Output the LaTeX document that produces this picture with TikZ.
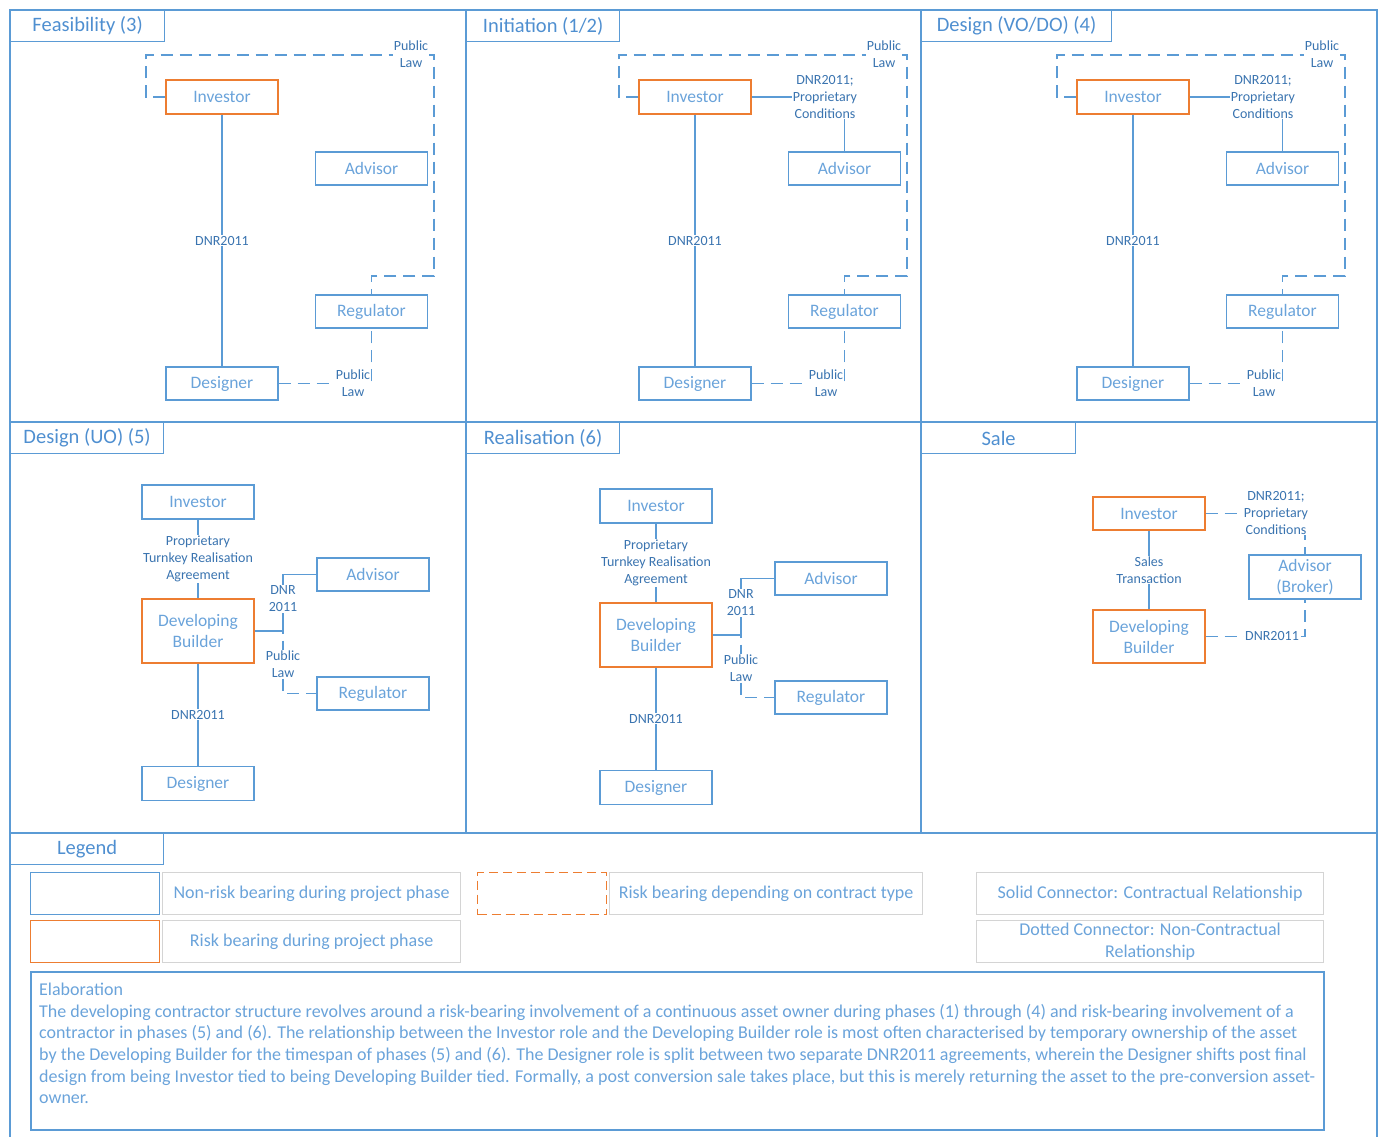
\documentclass[tikz,border=0pt]{standalone}
\usepackage{fontspec}
\setmainfont{Carlito}
\usetikzlibrary{calc}

\begin{document}
\begin{tikzpicture}[x=1pt, y=-1pt,
    role/.style={draw=lineColour, line width=1.4pt, text=roleText, font=\fontsize{17.5}{21}\selectfont,
        minimum width=112pt, minimum height=34pt, inner sep=0pt, align=center},
    riskRole/.style={role, draw=riskColour},
    relLabel/.style={fill=white, text=labelColour, font=\fontsize{14}{17}\selectfont, inner sep=0.8pt, align=center},
    contract/.style={draw=lineColour, line width=1.6pt},
    nonContract/.style={contract, dash pattern=on 12pt off 7pt},
    frame/.style={draw=lineColour, line width=1.4pt},
    phaseTab/.style={draw=lineColour, line width=1.2pt, anchor=north west, minimum height=31pt, inner sep=0pt,
        text=titleColour, font=\fontsize{20.5}{24}\selectfont},
    keyBox/.style={draw=lineColour, line width=1.4pt, minimum width=129pt, minimum height=42pt, anchor=north west, inner sep=0pt},
    legendText/.style={draw=greyColour, line width=1.2pt, text=roleText, minimum width=298pt, minimum height=42pt,
        anchor=north west, inner sep=0pt, align=center, font=\fontsize{18}{22}\selectfont}]

    % Define colours
    \definecolor{lineColour}{HTML}{5B9BD5}
    \definecolor{roleText}{HTML}{6AA3DA}
    \definecolor{labelColour}{HTML}{3A74B0}
    \definecolor{titleColour}{HTML}{4F8FD0}
    \definecolor{riskColour}{HTML}{ED7D31}
    \definecolor{greyColour}{HTML}{D4D4D4}

    % Fix page size
    \useasboundingbox (0,0) rectangle (1378,1136);

    % Draw phase frames
    \foreach \xa/\xb in {10/466, 466/921, 921/1377} {
        \draw[frame] (\xa,10) rectangle (\xb,422);
        \draw[frame] (\xa,422) rectangle (\xb,833);
    }
    \draw[frame] (10,1140) -- (10,833) -- (1377,833) -- (1377,1140);

    % Phase titles
    \node[phaseTab, minimum width=154pt] (tab1) at (10,10) {Feasibility (3)};
    \node[phaseTab, minimum width=153pt] (tab2) at (466,10) {Initiation (1/2)};
    \node[phaseTab, minimum width=190pt] (tab3) at (921,10) {Design (VO/DO) (4)};
    \node[phaseTab, minimum width=153pt] (tab4) at (10,422) {Design (UO) (5)};
    \node[phaseTab, minimum width=153pt] (tab5) at (466,422) {Realisation (6)};
    \node[phaseTab, minimum width=154pt] (tab6) at (921,422) {Sale};

    % Phases (3), (1/2) and (4)
    \foreach \ox/\i in {10/1, 483/2, 921/3} {
        \node[riskRole] (inv\i) at (\ox+212,97) {Investor};
        \node[role, minimum height=33pt] (adv\i) at (\ox+361.5,168.5) {Advisor};
        \node[role, minimum height=33pt] (reg\i) at (\ox+361.5,311.5) {Regulator};
        \node[role, minimum height=33pt] (des\i) at (\ox+212,383.5) {Designer};

        \draw[contract] (inv\i) -- (des\i) node[relLabel, midway] (dnr\i) {DNR2011};
        \draw[nonContract] (inv\i.west) -- (\ox+136,97) -- (\ox+136,55) -- (\ox+424,55)
            -- (\ox+424,276) -| (reg\i.north);
        \node[relLabel] (plTop\i) at (\ox+401,54) {Public\\Law};
        \draw[nonContract] (des\i.east) -| (reg\i.south);
        \node[relLabel] (plDes\i) at (\ox+343,383) {Public\\Law};

        \ifnum\i>1
            \draw[contract] (inv\i.east) -| (adv\i.north);
            \node[relLabel] (dnrPc\i) at (\ox+342,97) {DNR2011;\\Proprietary\\Conditions};
        \fi
    }

    % Phases (5) and (6)
    \foreach \ox/\oy/\i in {0/0/4, 458/4/5} {
        \node[role] (inv\i) at (\ox+198,\oy+502) {Investor};
        \node[riskRole, minimum height=64pt] (db\i) at (\ox+198,\oy+631) {Developing\\Builder};
        \node[role, minimum height=33pt] (adv\i) at (\ox+373,\oy+574.5) {Advisor};
        \node[role, minimum height=33pt] (reg\i) at (\ox+373,\oy+693.5) {Regulator};
        \node[role] (des\i) at (\ox+198,\oy+783.5) {Designer};
        \coordinate (jn\i) at (\ox+283,\oy+631);

        \draw[contract] (inv\i) -- (db\i) node[relLabel, midway] (ptra\i) {Proprietary\\Turnkey Realisation\\Agreement};
        \draw[contract] (db\i) -- (des\i) node[relLabel, midway] (dnr\i) {DNR2011};
        \draw[nonContract] (db\i.east) -- (jn\i) |- (reg\i.west);
        \draw[contract] (db\i.east) -- (jn\i) |- (adv\i.west);
        \node[relLabel] (dnrAdv\i) at (\ox+283,\oy+599) {DNR\\2011};
        \node[relLabel] (plReg\i) at (\ox+283,\oy+664) {Public\\Law};
    }

    % Sale
    \node[riskRole, minimum height=33pt] (inv6) at (1149,513.5) {Investor};
    \node[riskRole, minimum height=53pt] (db6) at (1149,636.5) {Developing\\Builder};
    \node[role, minimum height=44pt] (adv6) at (1305,577) {Advisor\\(Broker)};
    \draw[contract] (inv6) -- (db6) node[relLabel, midway] (sales6) {Sales\\Transaction};
    \draw[nonContract] (inv6.east) -| (adv6.north);
    \node[relLabel] (dnrPc6) at (1276,513) {DNR2011;\\Proprietary\\Conditions};
    \draw[nonContract] (db6.east) -| (adv6.south);
    \node[relLabel] (dnr6) at (1272,636) {DNR2011};

    % Legend
    \node[phaseTab, minimum width=153pt] (tabLegend) at (10,833) {Legend};
    \node[keyBox] (keyBlue) at (30,872) {};
    \node[legendText] (keyBlueText) at (162,872) {Non-risk bearing during project phase};
    \node[keyBox, draw=riskColour] (keyOrange) at (30,920) {};
    \node[legendText] (keyOrangeText) at (162,920) {Risk bearing during project phase};
    \node[keyBox, draw=riskColour, dash pattern=on 9pt off 5pt] (keyDashed) at (477,872) {};
    \node[legendText, minimum width=313pt] (keyDashedText) at (609,872) {Risk bearing depending on contract type};
    \node[legendText, minimum width=347pt] (keySolid) at (976,872) {Solid Connector: Contractual Relationship};
    \node[legendText, minimum width=347pt] (keyDotted) at (976,920) {Dotted Connector: Non-Contractual\\Relationship};

    % Elaboration
    \draw[frame] (31,972) rectangle (1324,1130);
    \node[anchor=north west, inner sep=0pt, align=left, text=roleText, font=\fontsize{18}{21.6}\selectfont] (elab) at (39,983)
        {Elaboration\\
        The developing contractor structure revolves around a risk-bearing involvement of a continuous asset owner during phases (1) through (4) and risk-bearing involvement of a\\
        contractor in phases (5) and (6). The relationship between the Investor role and the Developing Builder role is most often characterised by temporary ownership of the asset\\
        by the Developing Builder for the timespan of phases (5) and (6). The Designer role is split between two separate DNR2011 agreements, wherein the Designer shifts post final\\
        design from being Investor tied to being Developing Builder tied. Formally, a post conversion sale takes place, but this is merely returning the asset to the pre-conversion asset-\\
        owner.};

\end{tikzpicture}
\end{document}
